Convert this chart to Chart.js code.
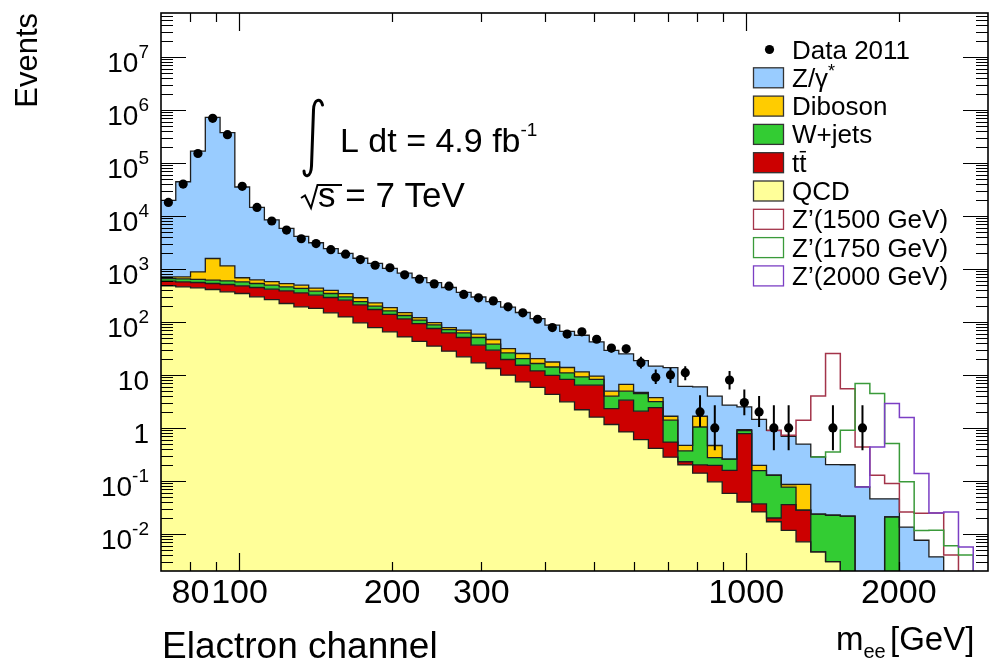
<!DOCTYPE html>
<html>
<head>
<meta charset="utf-8">
<script src="https://cdn.jsdelivr.net/npm/chart.js@4.4.0/dist/chart.umd.min.js"></script>
<style>
  html, body { margin: 0; padding: 0; background: #fff; }
  canvas { display: block; }
</style>
</head>
<body>
<canvas id="mee" width="993" height="667"></canvas>
<script>
// ── Binning (equal steps in log m) ───────────────────────────────────────────
const BIN_LO = 70, BIN_HI = 3000, N_BINS = 56;
const edges = Array.from({length: N_BINS + 1}, (_, i) => BIN_LO * Math.pow(BIN_HI / BIN_LO, i / N_BINS));
const centers = edges.slice(0, N_BINS).map((e, i) => Math.sqrt(e * edges[i + 1]));

// ── Expected events per bin ──────────────────────────────────────────────────
const qcd = [
  480, 458, 439, 408, 369, 343, 297, 264,
  222, 192, 179, 148, 124, 96, 78, 65,
  52, 43, 35, 28, 21.9, 16.9, 13.2, 9.9,
  7.4, 5.8, 4.3, 3.1, 2.2, 1.6, 1.16, 0.84,
  0.60, 0.41, 0.28, 0.20, 0.14, 0.096, 0.058, 0.040,
  0.026, 0.017, 0.0117, 0.0071, 0.0046, 0.003, 0, 0,
  0, 0, 0, 0, 0, 0, 0, 0
];
const ttbar = [
  106, 112, 114, 122, 138, 136, 148, 150,
  163, 161, 140, 140, 133, 114, 93, 74,
  62, 50, 40, 34, 28.8, 19.4, 16, 9.6,
  7.8, 6.1, 5.5, 5.1, 4.2, 4.8, 1.16, 2.5,
  1.47, 2.0, 0.26, 0.03, 0.06, 0.10, 0.10, 0.74,
  0.011, 0.003, 0.024, 0.021, 0, 0, 0, 0,
  0, 0, 0, 0, 0, 0, 0, 0
];
const wjets = [
  72, 79, 78, 82, 87, 91, 85, 79,
  73, 74, 61, 55, 40, 32, 27, 22,
  18, 15, 13, 9.7, 11.4, 14.4, 8.7, 6.5,
  5.1, 4.5, 4.3, 2.7, 2.8, 1.8, 1.64, 1.6,
  2.38, 0.72, 0.86, 0.14, 0.84, 0.08, 0.10, 0.11,
  0.12, 0.108, 0.041, 0, 0.019, 0.0195, 0.0217, 0,
  0, 0.021, 0, 0, 0, 0, 0, 0
];
const diboson = [
  50, 60, 249, 958, 546, 110, 90, 80,
  70, 65, 55, 50, 45, 43, 31, 24,
  17, 12, 9, 6.4, 7.6, 7.9, 8.6, 5.4,
  5.0, 3.9, 3.4, 2.9, 2.2, 1.3, 0.96, 1.66,
  0.2, 0.6, 0.26, 0.10, 0.62, 0.19, 0, 0.04,
  0.04, 0, 0.009, 0.058, 0, 0, 0, 0,
  0, 0, 0, 0, 0, 0, 0, 0
];
const zgamma = [
  18800, 43300, 165000, 718000, 369000, 34300, 13800, 7830,
  5270, 3610, 2670, 2010, 1610, 1300, 1040, 835,
  680, 560, 455, 367, 290, 236, 194, 159,
  125, 95, 69.5, 52.2, 44.6, 32.5, 24.1, 18.4,
  13.9, 10.9, 12.1, 5.6, 4.3, 3.5, 2.44, 1.57,
  1.25, 0.77, 0.61, 0.41, 0.26, 0.18, 0.18, 0.077,
  0.046, 0.025, 0.0135, 0.0076, 0.0037, 0, 0, 0
];

// ── Z' signals, stacked on the total background (first bin, then values) ────
const zp1500Start = 41;
const zp1500 = [0, 0.03, 0.9, 3.7, 25.1, 5.3, 0.36, 0.082, 0.043, 0.0125, 0.017, 0.021, 0.004, 0, 0];
const zp1750Start = 44;
const zp1750 = [0, 0.15, 0.70, 6.8, 4.4, 0.46, 0.083, 0.004, 0.008, 0.006, 0.004, 0];
const zp2000Start = 47;
const zp2000 = [0, 0.39, 2.83, 1.56, 0.13, 0.021, 0.026, 0.0057, 0];

// ── Data 2011 (0 = empty bin) and error bar ends ─────────────────────────────
const data2011 = [
  17900, 39800, 150000, 690000, 340000, 36000, 14400, 8000,
  5400, 3700, 3000, 2300, 1890, 1500, 1170, 1050,
  771, 640, 521, 471, 329, 284, 249, 192,
  148, 112, 78, 59, 65, 47, 32, 31,
  17, 9, 10, 11, 2, 1, 8, 3,
  2, 1, 1, 0, 0, 1, 0, 1,
  0, 0, 0, 0, 0, 0, 0, 0
];
const errStart = 26;
const errLo = [70, 51, 57, 40, 26.5, 25.5, 13.2, 6.7, 7.0, 7.9, 1.04, 0.38, 5.3, 1.73, 1.04, 0.38, 0.38, null, null, 0.38, null, 0.38];
const errHi = [87, 67, 73, 54, 38, 37, 21.9, 12.6, 13.5, 14.6, 4.14, 2.68, 11.9, 5.3, 4.0, 2.68, 2.68, null, null, 2.68, null, 2.68];

// ── Axis labels ──────────────────────────────────────────────────────────────
const yLabelExps = [-2, -1, 0, 1, 2, 3, 4, 5, 6, 7];
const xLabelVals = [80, 100, 200, 300, 1000, 2000];

const C = {
  zg: '#99ccff', dib: '#ffcc00', w: '#33cc33', tt: '#cc0000', qcd: '#ffff99',
  z1500: '#a3344a', z1750: '#3a9a3a', z2000: '#7b3fc4', edge: '#1e1e1e'
};
const FONT = '"Liberation Sans", Arial, sans-serif';
// empty bins are drawn at a level far below the axis so the log scale keeps them
const FLOOR = 1e-6;

// cumulative stack tops
const sumArr = (...arrs) => arrs[0].map((_, i) => arrs.reduce((s, a) => s + a[i], 0));
const topQ = qcd;
const topT = sumArr(qcd, ttbar);
const topW = sumArr(qcd, ttbar, wjets);
const topD = sumArr(qcd, ttbar, wjets, diboson);
const topZ = sumArr(qcd, ttbar, wjets, diboson, zgamma);

// histogram as step points on the bin edges
const stepPts = vals => edges.map((e, i) => ({x: e, y: Math.max(vals[Math.min(i, N_BINS - 1)], FLOOR)}));
const signalPts = (start, vals) => {
  const pts = vals.map((v, k) => ({x: edges[start + k], y: Math.max(topZ[start + k] + v, FLOOR)}));
  pts.push({x: edges[start + vals.length], y: pts[pts.length - 1].y});
  return pts;
};

function bgSet(label, tops, color, fill) {
  return {label, data: stepPts(tops), stepped: true, fill, backgroundColor: color,
    borderColor: C.edge, borderWidth: 1.3, pointRadius: 0};
}
function sigSet(label, start, vals, color) {
  return {label, data: signalPts(start, vals), stepped: true, fill: false,
    borderColor: color, borderWidth: 1.5, pointRadius: 0};
}

const datasets = [
  {label: 'Data 2011', data: centers.map((c, i) => ({x: c, y: data2011[i] > 0 ? data2011[i] : null})),
   showLine: false, pointRadius: 4.6, pointBackgroundColor: '#000', pointBorderWidth: 0},
  sigSet('Z’(2000 GeV)', zp2000Start, zp2000, C.z2000),
  sigSet('Z’(1750 GeV)', zp1750Start, zp1750, C.z1750),
  sigSet('Z’(1500 GeV)', zp1500Start, zp1500, C.z1500),
  bgSet('Z/γ*', topZ, C.zg, 5),
  bgSet('Diboson', topD, C.dib, 6),
  bgSet('W+jets', topW, C.w, 7),
  bgSet('tt', topT, C.tt, 8),
  bgSet('QCD', topQ, C.qcd, 'start')
];

// ── Decorations: error bars, frame, ticks, labels, legend ────────────────────
function supText(ctx, x, y, base, sup, size, supSize, supRise) {
  ctx.font = size + 'px ' + FONT;
  ctx.fillText(base, x, y);
  const w = ctx.measureText(base).width;
  ctx.font = supSize + 'px ' + FONT;
  ctx.fillText(sup, x + w, y - supRise);
}

const decor = {
  id: 'decor',
  afterDatasetsDraw(chart) {
    const {ctx, chartArea: a} = chart;
    const xs = chart.scales.x, ys = chart.scales.y;
    ctx.save();
    ctx.beginPath(); ctx.rect(a.left, a.top, a.right - a.left, a.bottom - a.top); ctx.clip();
    ctx.strokeStyle = '#000'; ctx.lineWidth = 2;
    ctx.beginPath();
    errLo.forEach((lo, k) => {
      if (lo == null) return;
      const px = xs.getPixelForValue(centers[errStart + k]);
      ctx.moveTo(px, ys.getPixelForValue(lo));
      ctx.lineTo(px, ys.getPixelForValue(errHi[k]));
    });
    ctx.stroke();
    ctx.restore();
  },
  afterDraw(chart) {
    const {ctx, chartArea: a} = chart;
    const xs = chart.scales.x, ys = chart.scales.y;
    ctx.save();
    ctx.strokeStyle = '#000';
    ctx.fillStyle = '#000';

    // ticks on all four sides, pointing inwards
    ctx.lineWidth = 1.2;
    ctx.beginPath();
    for (let k = -3; k <= 7; k++) {
      for (let m = 1; m <= 9; m++) {
        const v = m * Math.pow(10, k);
        if (v <= ys.min || v >= ys.max) continue;
        const py = Math.round(ys.getPixelForValue(v)) + 0.5;
        const len = m === 1 ? 25 : 12;
        ctx.moveTo(a.left, py); ctx.lineTo(a.left + len, py);
        ctx.moveTo(a.right, py); ctx.lineTo(a.right - len, py);
      }
    }
    for (let k = 1; k <= 3; k++) {
      for (let m = 1; m <= 9; m++) {
        const v = m * Math.pow(10, k);
        if (v <= xs.min || v >= xs.max) continue;
        const px = Math.round(xs.getPixelForValue(v)) + 0.5;
        const len = m === 1 ? 18 : 9;
        ctx.moveTo(px, a.bottom); ctx.lineTo(px, a.bottom - len);
        ctx.moveTo(px, a.top); ctx.lineTo(px, a.top + len);
      }
    }
    ctx.stroke();

    // frame
    ctx.lineWidth = 1.6;
    ctx.strokeRect(a.left, a.top, a.right - a.left, a.bottom - a.top);

    // y tick labels
    ctx.textBaseline = 'alphabetic';
    ctx.textAlign = 'left';
    yLabelExps.forEach(e => {
      const py = ys.getPixelForValue(Math.pow(10, e));
      const base = e === 0 ? '1' : '10';
      const sup = (e === 0 || e === 1) ? '' : String(e);
      ctx.font = '28px ' + FONT;
      const wb = ctx.measureText(base).width;
      ctx.font = '19px ' + FONT;
      const ws = sup ? ctx.measureText(sup).width : 0;
      supText(ctx, 149 - wb - ws, py + 15, base, sup, 28, 19, 14);
    });

    // x tick labels
    ctx.textAlign = 'center';
    ctx.font = '34px ' + FONT;
    xLabelVals.forEach(v => {
      ctx.fillText(String(v), xs.getPixelForValue(v), 603);
    });

    // axis titles
    ctx.save();
    ctx.translate(37, 13);
    ctx.rotate(-Math.PI / 2);
    ctx.textAlign = 'right';
    ctx.font = '31px ' + FONT;
    ctx.fillText('Events', 0, 0);
    ctx.restore();

    ctx.textAlign = 'left';
    ctx.font = '37px ' + FONT;
    ctx.fillText('Elactron channel', 162, 658);
    ctx.font = '33px ' + FONT;
    ctx.fillText('m', 836, 650);
    const wm = ctx.measureText('m').width;
    ctx.font = '20px ' + FONT;
    ctx.fillText('ee', 836 + wm, 658);
    ctx.font = '33px ' + FONT;
    ctx.fillText('[GeV]', 890, 650);

    // luminosity and energy
    ctx.lineWidth = 3;
    ctx.lineCap = 'round';
    ctx.beginPath();
    ctx.moveTo(322.5, 105);
    ctx.bezierCurveTo(321, 98, 314, 98, 313.5, 110);
    ctx.lineTo(311.5, 166);
    ctx.bezierCurveTo(311, 178, 304, 178, 304, 171);
    ctx.stroke();
    supText(ctx, 340, 152, 'L dt = 4.9 fb', '-1', 34, 19, 16);

    ctx.lineWidth = 2;
    ctx.lineCap = 'butt';
    ctx.beginPath();
    ctx.moveTo(301, 198); ctx.lineTo(305, 195.5); ctx.lineTo(311, 208);
    ctx.lineTo(317.5, 185); ctx.lineTo(342, 185);
    ctx.stroke();
    ctx.font = '35px ' + FONT;
    ctx.fillText('s = 7 TeV', 318, 207);

    // legend
    const rows = [
      {label: 'Data 2011', dot: true},
      {label: 'Z/γ', sup: '*', fill: C.zg},
      {label: 'Diboson', fill: C.dib},
      {label: 'W+jets', fill: C.w},
      {label: 'tt', bar: true, fill: C.tt},
      {label: 'QCD', fill: C.qcd},
      {label: 'Z’(1500 GeV)', line: C.z1500},
      {label: 'Z’(1750 GeV)', line: C.z1750},
      {label: 'Z’(2000 GeV)', line: C.z2000}
    ];
    rows.forEach((r, i) => {
      const cy = 49.5 + i * 28.3;
      if (r.dot) {
        ctx.beginPath(); ctx.arc(769.5, cy, 4.6, 0, Math.PI * 2); ctx.fill();
      } else {
        ctx.fillStyle = r.fill || '#fff';
        ctx.fillRect(753.5, cy - 10, 30, 20);
        ctx.strokeStyle = r.line || '#333';
        ctx.lineWidth = 1.3;
        ctx.strokeRect(753.5, cy - 10, 30, 20);
        ctx.fillStyle = '#000';
      }
      if (r.sup) {
        supText(ctx, 792, cy + 9, r.label, r.sup, 26, 18, 10);
      } else {
        ctx.font = '26px ' + FONT;
        ctx.fillText(r.label, 792, cy + 9);
      }
      if (r.bar) {
        const wt = ctx.measureText('t').width;
        ctx.strokeStyle = '#000'; ctx.lineWidth = 1.5;
        ctx.beginPath();
        ctx.moveTo(792 + wt + 0.5, cy - 11); ctx.lineTo(792 + 2 * wt - 0.5, cy - 11);
        ctx.stroke();
      }
    });
    ctx.restore();
  }
};

new Chart(document.getElementById('mee'), {
  type: 'line',
  data: {datasets},
  options: {
    responsive: false,
    animation: false,
    events: [],
    layout: {padding: {left: 161, top: 13, right: 5, bottom: 96}},
    elements: {line: {tension: 0}},
    scales: {
      x: {type: 'logarithmic', min: BIN_LO, max: BIN_HI, display: false},
      y: {type: 'logarithmic', min: 0.002, max: 6.7e7, display: false}
    },
    plugins: {
      legend: {display: false},
      tooltip: {enabled: false},
      filler: {drawTime: 'beforeDatasetsDraw'}
    }
  },
  plugins: [decor]
});
</script>
</body>
</html>
